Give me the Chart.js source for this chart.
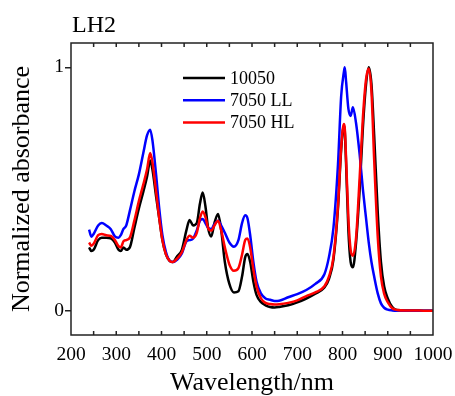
<!DOCTYPE html>
<html>
<head>
<meta charset="utf-8">
<script src="https://cdn.jsdelivr.net/npm/chart.js@4"></script>
<style>
  html, body { margin: 0; padding: 0; background: #fff; }
  #wrap { width: 455px; height: 396px; }
</style>
</head>
<body>
<div id="wrap"><canvas id="chart"></canvas></div>
<script>
// wavelengths (nm)
var wavelengths = [240, 245, 250, 260, 268, 278, 288, 297, 305, 310, 316, 322, 330, 340, 350, 360, 368, 375, 380, 388,
    395, 402, 410, 418, 425, 435, 445, 455, 462, 470, 478, 485, 491, 497, 503, 510, 517, 525, 532, 540,
    550, 560, 570, 578, 585, 590, 596, 603, 610, 620, 630, 640, 650, 660, 680, 700, 720, 740, 760, 770,
    780, 790, 797, 803, 805, 808, 813, 818, 823, 830, 838, 845, 852, 858, 864, 870, 878, 885, 892, 900,
    910, 920, 940, 960, 980, 1000];

var abs10050 = [0.26, 0.245, 0.25, 0.29, 0.30, 0.30, 0.297, 0.28, 0.25, 0.245, 0.26, 0.25, 0.26, 0.34, 0.42, 0.49, 0.55, 0.617, 0.58, 0.47,
    0.38, 0.29, 0.23, 0.205, 0.2, 0.225, 0.25, 0.33, 0.373, 0.35, 0.36, 0.44, 0.486, 0.43, 0.34, 0.305, 0.36, 0.397, 0.33, 0.2,
    0.11, 0.075, 0.08, 0.14, 0.22, 0.233, 0.2, 0.12, 0.065, 0.035, 0.022, 0.015, 0.013, 0.015, 0.022, 0.034, 0.05, 0.07, 0.095, 0.13,
    0.21, 0.42, 0.66, 0.76, 0.74, 0.6, 0.33, 0.2, 0.178, 0.28, 0.5, 0.75, 0.93, 1.0, 0.93, 0.72, 0.4, 0.2, 0.1, 0.05,
    0.015, 0.003, 0.001, 0.001, 0, 0];

var abs7050LL = [0.333, 0.304, 0.315, 0.35, 0.36, 0.35, 0.335, 0.305, 0.3, 0.31, 0.336, 0.35, 0.41, 0.49, 0.56, 0.65, 0.72, 0.744, 0.7, 0.56,
    0.42, 0.31, 0.24, 0.205, 0.2, 0.21, 0.235, 0.285, 0.29, 0.297, 0.33, 0.37, 0.377, 0.36, 0.34, 0.336, 0.355, 0.37, 0.35, 0.32,
    0.28, 0.263, 0.29, 0.36, 0.392, 0.38, 0.31, 0.2, 0.12, 0.07, 0.05, 0.045, 0.04, 0.041, 0.055, 0.068, 0.085, 0.11, 0.15, 0.22,
    0.34, 0.6, 0.88, 0.98, 1.0, 0.94, 0.83, 0.8, 0.836, 0.77, 0.64, 0.5, 0.38, 0.28, 0.2, 0.14, 0.07, 0.03, 0.012, 0.004,
    0.001, 0, 0, 0, 0, 0];

var abs7050HL = [0.28, 0.267, 0.275, 0.31, 0.315, 0.31, 0.307, 0.29, 0.265, 0.26, 0.285, 0.29, 0.3, 0.37, 0.45, 0.52, 0.58, 0.648, 0.61, 0.49,
    0.38, 0.29, 0.23, 0.205, 0.2, 0.215, 0.24, 0.29, 0.308, 0.30, 0.32, 0.38, 0.408, 0.385, 0.34, 0.329, 0.35, 0.37, 0.33, 0.26,
    0.19, 0.164, 0.175, 0.23, 0.29, 0.297, 0.26, 0.17, 0.1, 0.05, 0.032, 0.027, 0.025, 0.026, 0.032, 0.042, 0.06, 0.075, 0.1, 0.14,
    0.22, 0.43, 0.67, 0.767, 0.75, 0.62, 0.38, 0.25, 0.226, 0.3, 0.55, 0.79, 0.95, 0.995, 0.9, 0.62, 0.3, 0.14, 0.07, 0.035,
    0.01, 0.003, 0.001, 0.001, 0, 0];

var xTickValues = [200, 300, 400, 500, 600, 700, 800, 900, 1000];
var yTickValues = [0, 1];
var serif = "'Times New Roman', 'Liberation Serif', serif";

function toPoints(ys) {
    return wavelengths.map(function(x, i) { return {x: x, y: ys[i]}; });
}

// box, inward minor ticks, panel title and legend
var framePlugin = {
    id: 'frame',
    afterDraw: function(chart) {
        var ctx = chart.ctx;
        var a = chart.chartArea;
        var xs = chart.scales.x;
        ctx.save();
        ctx.strokeStyle = '#222';
        ctx.lineWidth = 1.5;
        ctx.strokeRect(a.left, a.top, a.right - a.left, a.bottom - a.top);
        ctx.beginPath();
        for (var v = 250; v < 1000; v += 50) {
            var px = xs.getPixelForValue(v);
            ctx.moveTo(px, a.bottom);
            ctx.lineTo(px, a.bottom - 4);
            ctx.moveTo(px, a.top);
            ctx.lineTo(px, a.top + 4);
        }
        ctx.stroke();

        ctx.fillStyle = '#000';
        ctx.font = '24px ' + serif;
        ctx.textBaseline = 'alphabetic';
        ctx.textAlign = 'left';
        ctx.fillText('LH2', 72, 32);

        ctx.font = '18px ' + serif;
        ctx.textBaseline = 'middle';
        chart.data.datasets.forEach(function(ds, i) {
            var y = 78 + i * 22.3;
            ctx.strokeStyle = ds.borderColor;
            ctx.lineWidth = 2.5;
            ctx.beginPath();
            ctx.moveTo(183, y);
            ctx.lineTo(225, y);
            ctx.stroke();
            ctx.fillText(ds.label, 230, y + 1);
        });
        ctx.restore();
    }
};

var ctx = document.getElementById('chart').getContext('2d');
new Chart(ctx, {
    type: 'line',
    data: {
        datasets: [{
            label: '10050',
            data: toPoints(abs10050),
            borderColor: '#000000',
            order: 3
        }, {
            label: '7050 LL',
            data: toPoints(abs7050LL),
            borderColor: '#0000ff',
            order: 2
        }, {
            label: '7050 HL',
            data: toPoints(abs7050HL),
            borderColor: '#ff0000',
            order: 1
        }]
    },
    options: {
        responsive: true,
        maintainAspectRatio: false,
        animation: false,
        devicePixelRatio: 1,
        layout: {
            padding: {top: 43, right: 22, left: 0, bottom: 0}
        },
        elements: {
            line: {
                borderWidth: 2.5,
                cubicInterpolationMode: 'monotone',
                fill: false
            },
            point: {radius: 0}
        },
        plugins: {
            legend: {display: false},
            tooltip: {enabled: false}
        },
        scales: {
            x: {
                type: 'linear',
                min: 200,
                max: 1000,
                afterFit: function(scale) {
                    scale.height = 61;
                    scale.paddingLeft = 0;
                    scale.paddingRight = 0;
                },
                afterBuildTicks: function(scale) {
                    scale.ticks = xTickValues.map(function(v) { return {value: v}; });
                },
                grid: {display: false, drawTicks: false},
                border: {display: false},
                ticks: {
                    color: '#000',
                    padding: 8,
                    maxRotation: 0,
                    autoSkip: false,
                    font: {family: serif, size: 19.5},
                    callback: function(value) { return String(value); }
                },
                title: {
                    display: true,
                    text: 'Wavelength/nm',
                    color: '#000',
                    padding: 0,
                    font: {family: serif, size: 26, lineHeight: 1}
                }
            },
            y: {
                min: -0.1,
                max: 1.1,
                afterFit: function(scale) {
                    scale.width = 71;
                    scale.paddingTop = 0;
                    scale.paddingBottom = 0;
                },
                afterBuildTicks: function(scale) {
                    scale.ticks = yTickValues.map(function(v) { return {value: v}; });
                },
                grid: {
                    drawOnChartArea: false,
                    drawTicks: true,
                    tickLength: 6,
                    color: '#222',
                    lineWidth: 1.5
                },
                border: {display: false},
                ticks: {
                    color: '#000',
                    padding: 1,
                    font: {family: serif, size: 19.5}
                },
                title: {
                    display: true,
                    text: 'Normalized absorbance',
                    color: '#000',
                    padding: {top: 9, bottom: 0},
                    font: {family: serif, size: 26, lineHeight: 1}
                }
            }
        }
    },
    plugins: [framePlugin]
});
</script>
</body>
</html>
